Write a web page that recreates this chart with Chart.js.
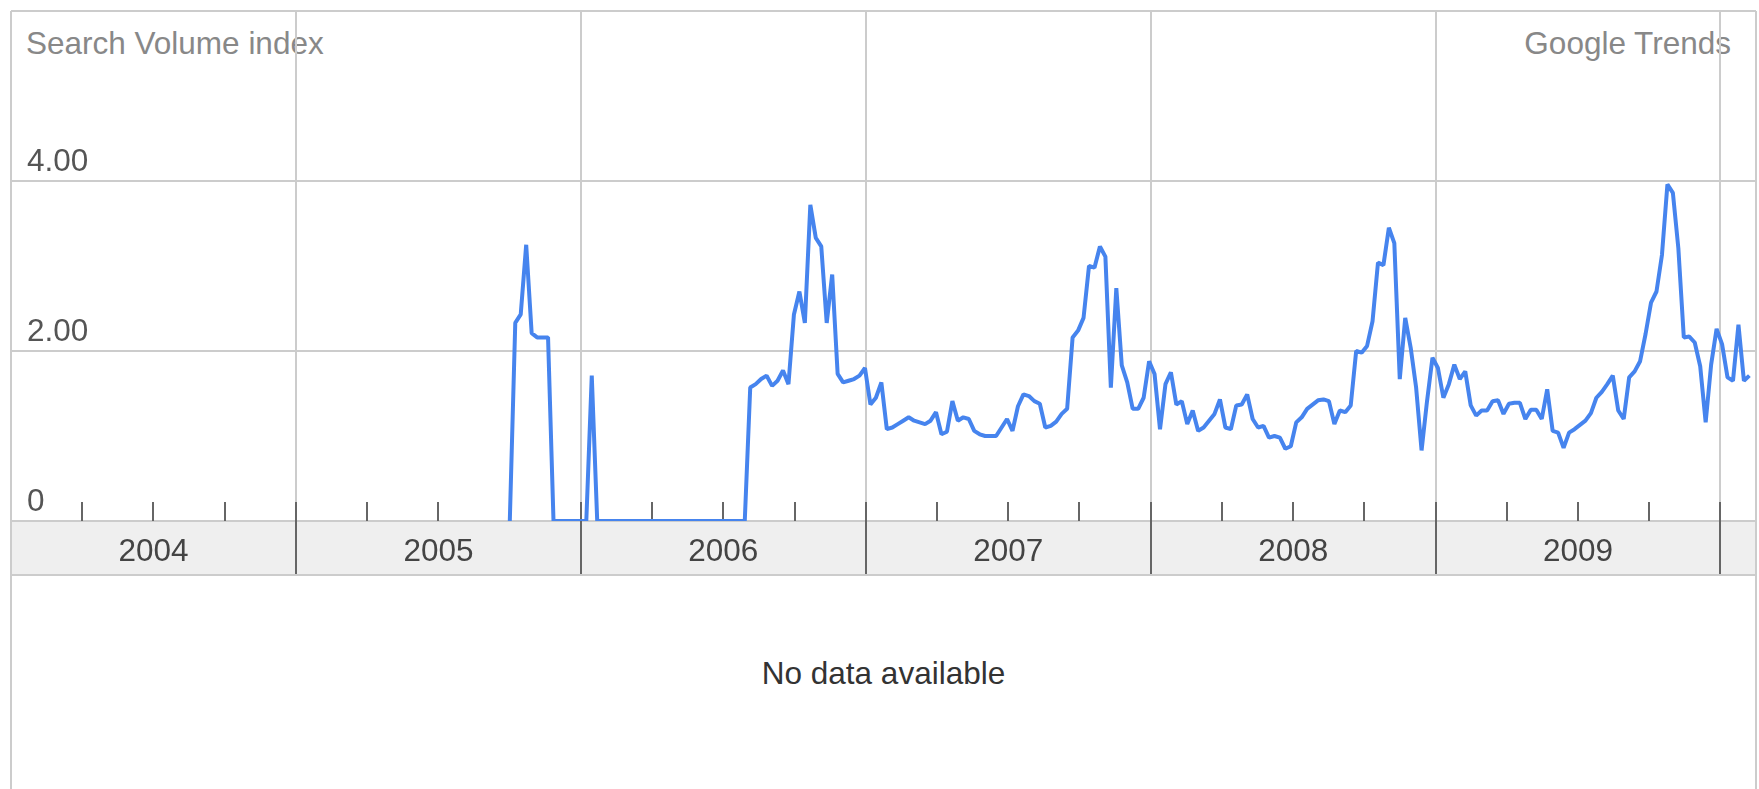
<!DOCTYPE html>
<html>
<head>
<meta charset="utf-8">
<title>Search Volume index</title>
<script src="https://cdn.jsdelivr.net/npm/chart.js@4.4.1/dist/chart.umd.min.js"></script>
<style>
  html, body { margin: 0; padding: 0; background: #fff; overflow: hidden; }
  #wrap { position: relative; width: 1759px; height: 789px; font-family: "Liberation Sans", Arial, sans-serif; }
  .txt { position: absolute; font-size: 31.5px; line-height: 31.5px; white-space: nowrap; }
  #title { left: 26px; top: 28px; color: #888; }
  #brand { right: 28px; top: 28px; color: #888; }
  #nodata { left: 11px; width: 1745px; text-align: center; top: 658px; color: #333; }
  #trend { position: absolute; left: 0; top: 0; }
</style>
</head>
<body>
<div id="wrap">
  <div class="txt" id="title">Search Volume index</div>
  <div class="txt" id="brand">Google Trends</div>
  <div class="txt" id="nodata">No data available</div>
  <canvas id="trend" width="1759" height="789"></canvas>
</div>
<script>
// weekly values, first week is Sunday 2005-10-02
const weeks2005 = [0, 2.33, 2.43, 3.25, 2.21, 2.16, 2.16, 2.16, 0, 0, 0, 0, 0];
const weeks2006 = [0, 0, 1.71, 0,
    0, 0, 0, 0, 0, 0, 0, 0, 0, 0, 0, 0, 0, 0, 0, 0, 0, 0, 0, 0, 0, 0, 0, 0, 0, 0, 0,
    1.57, 1.61, 1.67, 1.71, 1.59, 1.65, 1.77, 1.61, 2.43, 2.70, 2.33, 3.72, 3.33,
    3.23, 2.33, 2.90, 1.73, 1.63, 1.65, 1.67, 1.71, 1.80];
const weeks2007 = [1.37, 1.45, 1.63, 1.08, 1.10, 1.14, 1.18, 1.22, 1.18, 1.16, 1.14, 1.18, 1.28,
    1.02, 1.05, 1.41, 1.18, 1.22, 1.20, 1.06, 1.02, 1.00, 1.00, 1.00, 1.10, 1.20, 1.06,
    1.35, 1.49, 1.47, 1.41, 1.38, 1.10, 1.12, 1.17, 1.26, 1.32, 2.16, 2.24, 2.39, 3.00,
    2.98, 3.23, 3.11, 1.57, 2.74, 1.83, 1.63, 1.32, 1.32, 1.45, 1.88];
const weeks2008 = [1.73, 1.08, 1.61, 1.75, 1.37, 1.41, 1.14, 1.30, 1.06, 1.10, 1.18, 1.26, 1.43,
    1.10, 1.08, 1.36, 1.37, 1.49, 1.20, 1.10, 1.12, 0.98, 1.00, 0.98, 0.85, 0.88, 1.16,
    1.22, 1.32, 1.37, 1.42, 1.43, 1.41, 1.14, 1.30, 1.28, 1.36, 2.00, 1.98, 2.06, 2.35,
    3.04, 3.01, 3.45, 3.27, 1.67, 2.39, 2.04, 1.57, 0.83, 1.41, 1.92];
const weeks2009 = [1.80, 1.45, 1.61, 1.84, 1.67, 1.76, 1.36, 1.24, 1.30, 1.30, 1.41, 1.42, 1.26,
    1.38, 1.39, 1.39, 1.20, 1.31, 1.31, 1.20, 1.55, 1.06, 1.04, 0.86, 1.04, 1.08, 1.13,
    1.18, 1.27, 1.45, 1.52, 1.61, 1.71, 1.30, 1.20, 1.69, 1.76, 1.88, 2.20, 2.57, 2.70,
    3.13, 3.96, 3.86, 3.21, 2.16, 2.17, 2.10, 1.82, 1.16, 1.84, 2.26];
const weeks2010 = [2.08, 1.69, 1.65, 2.31, 1.65, 1.71];

const yearTicks = [2004, 2005, 2006, 2007, 2008, 2009, 2010];
const yearLabels = ['2004', '2005', '2006', '2007', '2008', '2009', ''];
const quarterMarks = [0.25, 0.5, 0.75];
const valueTicks = [0, 2, 4, 6];
const valueLabels = ['0', '2.00', '4.00', ''];

const bandHeight = 54;

// date of week i -> fractional year for the linear x axis
function weekToYear(i) {
    let t = Date.UTC(2005, 9, 2 + 7 * i);
    let y = new Date(t).getUTCFullYear();
    let a = Date.UTC(y, 0, 1), b = Date.UTC(y + 1, 0, 1);
    return y + (t - a) / (b - a);
}

const values = [].concat(weeks2005, weeks2006, weeks2007, weeks2008, weeks2009, weeks2010);
const points = values.map((v, i) => ({ x: weekToYear(i), y: v }));

const frame = {
    id: 'frame',
    beforeDraw(chart) {
        const { ctx, chartArea: a, height } = chart;
        ctx.save();
        ctx.fillStyle = '#efefef';
        ctx.fillRect(a.left, a.bottom, a.right - a.left, bandHeight);
        ctx.strokeStyle = '#cccccc';
        ctx.lineWidth = 2;
        ctx.beginPath();
        ctx.moveTo(a.left, a.top); ctx.lineTo(a.left, height);
        ctx.moveTo(a.right, a.top); ctx.lineTo(a.right, height);
        ctx.moveTo(a.left, a.bottom + bandHeight); ctx.lineTo(a.right, a.bottom + bandHeight);
        ctx.stroke();
        ctx.restore();
    },
    beforeDatasetsDraw(chart) {
        const { ctx, chartArea: a, scales } = chart;
        const x = scales.x;
        ctx.save();
        ctx.strokeStyle = '#666666';
        ctx.lineWidth = 2;
        ctx.beginPath();
        yearTicks.forEach((yr, i) => {
            if (i > 0) {
                let px = Math.round(x.getPixelForValue(yr));
                ctx.moveTo(px, a.bottom - 19);
                ctx.lineTo(px, a.bottom + bandHeight - 1);
            }
            if (i < yearTicks.length - 1) {
                quarterMarks.forEach(q => {
                    let px = Math.round(x.getPixelForValue(yr + q));
                    ctx.moveTo(px, a.bottom - 19);
                    ctx.lineTo(px, a.bottom);
                });
            }
        });
        ctx.stroke();
        ctx.restore();
    }
};

const tickFont = { family: '"Liberation Sans", Arial, sans-serif', size: 31.5 };

let ctx = document.getElementById('trend').getContext('2d');
let trendChart = new Chart(ctx, {
    type: 'line',
    data: {
        datasets: [{
            label: 'Search Volume index',
            data: points,
            borderColor: '#4684ee',
            borderWidth: 4,
            borderJoinStyle: 'bevel',
            pointRadius: 0,
            tension: 0,
            fill: false
        }]
    },
    options: {
        responsive: false,
        animation: false,
        devicePixelRatio: 1,
        layout: { padding: { left: 11, top: 11, right: 3, bottom: 789 - 575 } },
        plugins: { legend: { display: false }, tooltip: { enabled: false } },
        scales: {
            x: {
                type: 'linear',
                min: 2004,
                max: 2010.1246,
                border: { display: false },
                grid: { color: '#cccccc', lineWidth: 2, drawTicks: false },
                afterBuildTicks: s => { s.ticks = yearTicks.map(v => ({ value: v })); },
                afterFit: s => { s.height = bandHeight; s.paddingLeft = 0; s.paddingRight = 0; },
                ticks: {
                    autoSkip: false,
                    maxRotation: 0,
                    labelOffset: 142.5,
                    padding: 12,
                    color: '#444444',
                    font: tickFont,
                    callback: (v, i) => yearLabels[i] || ''
                }
            },
            y: {
                min: 0,
                max: 6,
                border: { display: false },
                grid: { color: '#cccccc', lineWidth: 2, drawTicks: false },
                afterBuildTicks: s => { s.ticks = valueTicks.map(v => ({ value: v })); },
                afterFit: s => { s.width = 0; s.paddingTop = 0; s.paddingBottom = 0; },
                ticks: {
                    mirror: true,
                    padding: 16,
                    labelOffset: -19,
                    color: '#555555',
                    font: tickFont,
                    callback: (v, i) => valueLabels[i]
                }
            }
        }
    },
    plugins: [frame]
});
</script>
</body>
</html>
